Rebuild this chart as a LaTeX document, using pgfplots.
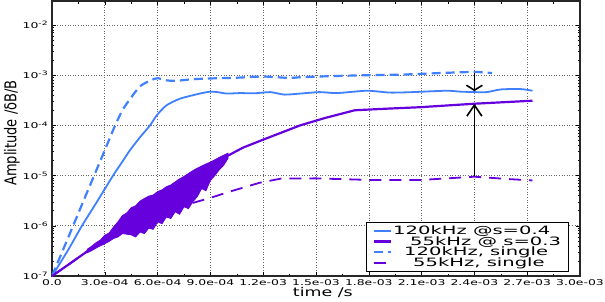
\documentclass[border=0pt]{standalone}
\usepackage{fontspec}
\setmainfont{DejaVu Sans}
\usepackage{graphicx}
\usepackage{pgfplots}
\pgfplotsset{compat=1.18}
\usetikzlibrary{arrows.meta}
\definecolor{cblue}{RGB}{64,128,255}
\definecolor{cpurp}{RGB}{102,0,221}
\newcommand\hs[1]{\scalebox{1.55}[1]{#1}}
\newcommand\lgd[1]{\scalebox{1.7}[1]{#1}}
\newcommand\ye[1]{\hs{10\textsuperscript{-#1}}}
\begin{document}
\begin{tikzpicture}
\begin{axis}[
  width=528pt, height=275pt, scale only axis,
  xmin=0, xmax=0.003, ymode=log, ymin=1e-7, ymax=3e-2,
  scaled x ticks=false,
  xtick={0,0.0003,0.0006,0.0009,0.0012,0.0015,0.0018,0.0021,0.0024,0.0027,0.003},
  xticklabels={\hs{0.0},\hs{3.0e-04},\hs{6.0e-04},\hs{9.0e-04},\hs{1.2e-03},\hs{1.5e-03},\hs{1.8e-03},\hs{2.1e-03},\hs{2.4e-03},\hs{2.7e-03},\hs{3.0e-03}},
  ytick={1e-7,1e-6,1e-5,1e-4,1e-3,1e-2},
  yticklabels={\ye{7},\ye{6},\ye{5},\ye{4},\ye{3},\ye{2}},
  minor x tick num=1,
  ticklabel style={font=\fontsize{8}{9}\selectfont},
  tick align=inside,
  major tick length=4pt, minor tick length=2.5pt,
  tick style={black, line width=0.5pt},
  axis line style={draw=black!85, line width=1.3pt},
  grid=major,
  major grid style={gray!80!black, line width=0.6pt, dash pattern=on 1pt off 1.6pt},
  xlabel={\fontsize{12}{14}\selectfont\scalebox{1.45}[1]{time /s}},
  xlabel style={at={(axis description cs:0.513,0)}, anchor=center, yshift=-16pt},
  ylabel={\fontsize{13}{15}\selectfont\scalebox{1}[1.25]{Amplitude /δB/B}},
  ylabel style={at={(axis description cs:-0.076,0.52)}, anchor=center},
  legend style={at={(axis description cs:0.979,0.0145)}, anchor=south east,
    font=\fontsize{11.5}{11}\selectfont, draw=black, line width=0.8pt,
    row sep=-2.5pt, inner xsep=6pt, inner ysep=2pt, nodes={inner sep=1.5pt}},
  legend cell align=left,
]
% noisy band of the 55kHz @ s=0.3 run
\addplot[fill=cpurp, draw=cpurp, line width=0.8pt, forget plot] coordinates {
(2.0e-4,3.4e-7)(2.25e-4,3.9e-7)(2.5e-4,4.6e-7)(2.75e-4,5.2e-7)(3.0e-4,6.5e-7)
(3.25e-4,7.2e-7)(3.5e-4,9.5e-7)(3.75e-4,1.2e-6)(4.0e-4,1.6e-6)(4.25e-4,1.8e-6)
(4.5e-4,2.3e-6)(4.75e-4,2.5e-6)(5.0e-4,3.1e-6)(5.25e-4,3.5e-6)(5.5e-4,3.9e-6)
(5.75e-4,4.1e-6)(6.0e-4,4.8e-6)(6.25e-4,5.2e-6)(6.5e-4,6.0e-6)(6.75e-4,6.5e-6)
(7.0e-4,7.5e-6)(7.25e-4,8.6e-6)(7.5e-4,9.6e-6)(7.75e-4,1.1e-5)(8.0e-4,1.25e-5)
(8.25e-4,1.4e-5)(8.5e-4,1.55e-5)(8.75e-4,1.7e-5)(9.0e-4,1.85e-5)(9.5e-4,2.3e-5)
(1.0e-3,2.8e-5)
(1.0e-3,2.2e-5)(9.75e-4,1.6e-5)(9.5e-4,1.3e-5)(9.25e-4,1.0e-5)(9.0e-4,8.0e-6)
(8.75e-4,5.0e-6)(8.5e-4,5.5e-6)(8.25e-4,3.8e-6)(8.0e-4,3.0e-6)(7.75e-4,2.2e-6)
(7.5e-4,2.4e-6)(7.25e-4,1.7e-6)(7.0e-4,1.9e-6)(6.75e-4,1.4e-6)(6.5e-4,1.5e-6)
(6.25e-4,1.1e-6)(6.0e-4,1.2e-6)(5.75e-4,8.5e-7)(5.5e-4,9.0e-7)(5.25e-4,7.0e-7)
(5.0e-4,7.5e-7)(4.75e-4,6.0e-7)(4.5e-4,6.6e-7)(4.25e-4,6.8e-7)(4.0e-4,7.0e-7)
(3.75e-4,6.0e-7)(3.5e-4,5.6e-7)(3.25e-4,4.9e-7)(3.0e-4,4.4e-7)(2.75e-4,4.0e-7)
(2.5e-4,3.6e-7)(2.25e-4,3.2e-7)(2.0e-4,2.9e-7)} -- cycle;
% 120kHz @s=0.4
\addplot[cblue, line width=1.8pt, smooth, tension=0.4] coordinates {
(0,1e-7)(5e-5,1.9e-7)(1e-4,3.7e-7)(1.7e-4,1e-6)(2.5e-4,2.8e-6)(3.47e-4,1e-5)
(4.0e-4,1.9e-5)(4.43e-4,3.2e-5)(5.0e-4,5.8e-5)(5.57e-4,1e-4)(5.96e-4,1.6e-4)
(6.5e-4,2.5e-4)(7.27e-4,3.4e-4)(8.4e-4,4.3e-4)(9.0e-4,4.7e-4)(9.4e-4,4.6e-4)
(9.94e-4,4.3e-4)(1.07e-3,4.4e-4)(1.15e-3,4.35e-4)(1.24e-3,4.6e-4)(1.32e-3,4.1e-4)
(1.41e-3,4.3e-4)(1.52e-3,4.6e-4)(1.62e-3,4.4e-4)(1.79e-3,4.9e-4)(1.92e-3,4.5e-4)
(2.05e-3,4.6e-4)(2.24e-3,4.9e-4)(2.32e-3,4.7e-4)(2.4e-3,4.6e-4)(2.47e-3,4.6e-4)
(2.55e-3,5.2e-4)(2.66e-3,5.3e-4)(2.73e-3,4.9e-4)};
\addlegendentry{\lgd{120kHz @s=0.4}}
% 55kHz @ s=0.3
\addplot[cpurp, line width=2.2pt] coordinates {
(0,1e-7)(1e-4,1.75e-7)(2e-4,3.1e-7)(2.5e-4,4.0e-7)(3e-4,5.2e-7)(4e-4,1.0e-6)
(5e-4,1.5e-6)(6e-4,2.3e-6)(7e-4,3.6e-6)(8e-4,6e-6)(9e-4,1.2e-5)(1.0e-3,2.5e-5)
(1.085e-3,3.6e-5)(1.2e-3,5.2e-5)(1.41e-3,1.0e-4)(1.55e-3,1.4e-4)(1.72e-3,2.0e-4)
(1.9e-3,2.15e-4)(2.09e-3,2.3e-4)(2.4e-3,2.7e-4)(2.73e-3,3.1e-4)};
\addlegendentry{\hspace{17pt}\lgd{55kHz @ s=0.3}}
% 120kHz, single
\addplot[cblue, line width=2.2pt, dash pattern=on 9pt off 5pt, smooth, tension=0.4] coordinates {
(0,1e-7)(1e-4,6.8e-7)(2e-4,4.7e-6)(3e-4,3.2e-5)(3.5e-4,8.5e-5)(4.0e-4,2.0e-4)
(4.5e-4,3.6e-4)(5.0e-4,6.0e-4)(5.6e-4,7.9e-4)(6.0e-4,8.7e-4)(6.5e-4,7.9e-4)
(7.0e-4,7.7e-4)(8.0e-4,8.3e-4)(9.0e-4,8.6e-4)(1.05e-3,8.9e-4)(1.2e-3,9.4e-4)
(1.35e-3,8.8e-4)(1.41e-3,9.1e-4)(1.6e-3,9.6e-4)(1.8e-3,1.0e-3)(2.0e-3,1.03e-3)
(2.2e-3,1.1e-3)(2.4e-3,1.16e-3)(2.5e-3,1.1e-3)};
\addlegendentry{\hspace{11pt}\lgd{120kHz, single}}
% 55kHz, single
\addplot[cpurp, line width=1.8pt, dash pattern=on 12pt off 8pt] coordinates {
(0,1e-7)(1e-4,1.75e-7)(2e-4,3.1e-7)(3e-4,5.2e-7)(4e-4,9e-7)(5e-4,1.3e-6)
(6e-4,1.65e-6)(6.9e-4,2.0e-6)(7.84e-4,2.75e-6)(9e-4,3.6e-6)(1.01e-3,4.8e-6)
(1.18e-3,7.2e-6)(1.3e-3,8.7e-6)(1.5e-3,8.8e-6)(1.8e-3,8.2e-6)(2.1e-3,8.2e-6)
(2.4e-3,9.5e-6)(2.6e-3,8.5e-6)(2.73e-3,8e-6)};
\addlegendentry{\hspace{20pt}\lgd{55kHz, single}}
% arrows
\draw[-{Straight Barb[length=11pt,width=15pt,line width=1.6pt]}, line width=1.6pt, black]
  (axis cs:0.0024,1e-5) -- (axis cs:0.0024,2.7e-4);
\draw[-{Straight Barb[length=5pt,width=16pt,line width=1.6pt]}, line width=1.6pt, black]
  (axis cs:0.0024,1.1e-3) -- (axis cs:0.0024,4.8e-4);
\end{axis}
\pgfresetboundingbox
\path ([shift={(-52pt,-25pt)}]current axis.south west) rectangle ([shift={(25pt,1pt)}]current axis.north east);
\end{tikzpicture}
\end{document}
